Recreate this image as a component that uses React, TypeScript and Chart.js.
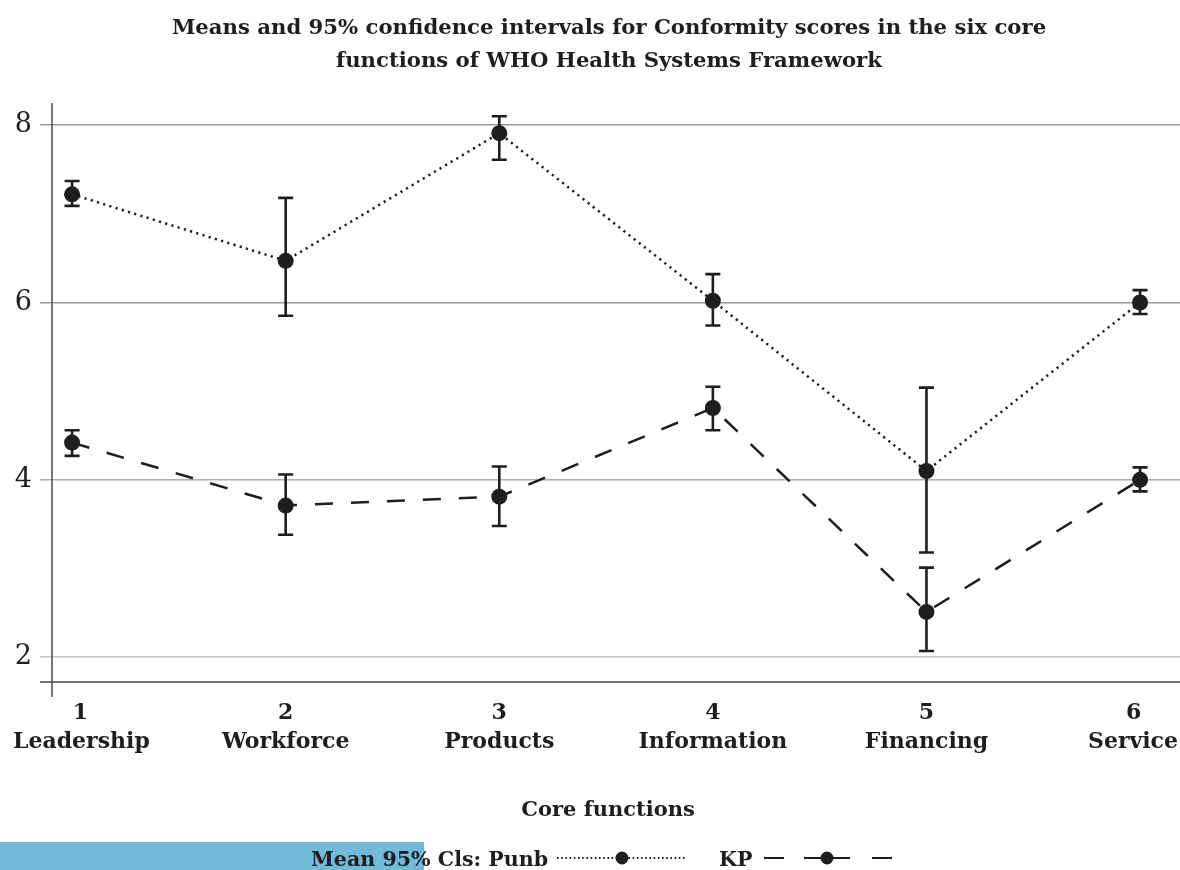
import React, { useEffect, useRef } from "react";
import { Chart, registerables } from "chart.js";

Chart.register(...registerables);

// ---------- data ----------
const categories = ["Leadership", "Workforce", "Products", "Information", "Financing", "Service"];
const categoryNumbers = [1, 2, 3, 4, 5, 6];
const punbMean = [7.22, 6.47, 7.91, 6.02, 4.1, 6.0];
const punbLow = [7.09, 5.85, 7.61, 5.74, 3.18, 5.87];
const punbHigh = [7.37, 7.18, 8.1, 6.32, 5.04, 6.14];
const kpMean = [4.42, 3.71, 3.81, 4.81, 2.51, 4.0];
const kpLow = [4.27, 3.38, 3.48, 4.56, 2.07, 3.87];
const kpHigh = [4.56, 4.06, 4.15, 5.05, 3.01, 4.14];
const yTicks = [2, 4, 6, 8];

const titleLines = [
  "Means and 95% confidence intervals for Conformity scores in the six core",
  "functions of WHO Health Systems Framework",
];
const xTitle = "Core functions";
const legendLead = "Mean 95% Cls: Punb";
const legendSecond = "KP";

const INK = "#1e1e1e";
const SERIF = '"DejaVu Serif", serif';

const errorBars = [
  { low: punbLow, high: punbHigh },
  { low: kpLow, high: kpHigh },
];

const errorBarPlugin = {
  id: "errorBars",
  beforeDatasetsDraw(chart: any) {
    const { ctx, scales } = chart;
    const xs = scales.x;
    const ys = scales.y;
    ctx.save();
    ctx.strokeStyle = INK;
    ctx.lineWidth = 2.6;
    ctx.lineCap = "butt";
    errorBars.forEach((eb) => {
      categoryNumbers.forEach((n, i) => {
        const x = xs.getPixelForValue(n);
        const yl = ys.getPixelForValue(eb.low[i]);
        const yh = ys.getPixelForValue(eb.high[i]);
        const cap = 7.5;
        ctx.beginPath();
        ctx.moveTo(x, yl);
        ctx.lineTo(x, yh);
        ctx.moveTo(x - cap, yl);
        ctx.lineTo(x + cap, yl);
        ctx.moveTo(x - cap, yh);
        ctx.lineTo(x + cap, yh);
        ctx.stroke();
      });
    });
    ctx.restore();
  },
};

const chromePlugin = {
  id: "chrome",
  beforeDatasetsDraw(chart: any) {
    const { ctx, chartArea } = chart;
    ctx.save();
    // axis lines
    ctx.strokeStyle = "#555";
    ctx.lineWidth = 1.6;
    ctx.beginPath();
    ctx.moveTo(chartArea.left, chartArea.top);
    ctx.lineTo(chartArea.left, chartArea.bottom + 15);
    ctx.stroke();
    ctx.strokeStyle = "#444";
    ctx.beginPath();
    ctx.moveTo(chartArea.left - 12, chartArea.bottom);
    ctx.lineTo(chartArea.right, chartArea.bottom);
    ctx.stroke();
    ctx.restore();
  },
  afterDraw(chart: any) {
    const { ctx, scales, chartArea, width } = chart;
    ctx.save();
    ctx.fillStyle = INK;
    // category labels (number + name), kept inside the canvas
    ctx.font = `bold 22px ${SERIF}`;
    ctx.textAlign = "center";
    ctx.textBaseline = "middle";
    categoryNumbers.forEach((n, i) => {
      const px = scales.x.getPixelForValue(n);
      const w = ctx.measureText(categories[i]).width;
      const cx = Math.min(Math.max(px, 13 + w / 2), width - 2 - w / 2);
      ctx.fillText(String(n), px + (cx - px) * 0.9, chartArea.bottom + 31);
      ctx.fillText(categories[i], cx, chartArea.bottom + 60);
    });
    // title
    ctx.font = `bold 21.2px ${SERIF}`;
    ctx.textBaseline = "alphabetic";
    ctx.fillText(titleLines[0], 609, 34);
    ctx.fillText(titleLines[1], 609, 67);
    // x axis title
    ctx.font = `bold 21px ${SERIF}`;
    ctx.fillText(xTitle, 608, 816);
    // legend
    ctx.fillStyle = "#6fbbd9";
    ctx.fillRect(0, 842, 424, 28);
    ctx.fillStyle = INK;
    ctx.textAlign = "left";
    ctx.font = `bold 20.6px ${SERIF}`;
    ctx.fillText(legendLead, 311, 866);
    ctx.fillText(legendSecond, 719, 866);
    const ly = 858;
    ctx.strokeStyle = INK;
    ctx.lineWidth = 2;
    ctx.setLineDash([1.6, 2.6]);
    ctx.beginPath();
    ctx.moveTo(557, ly);
    ctx.lineTo(687, ly);
    ctx.stroke();
    ctx.setLineDash([]);
    ctx.lineWidth = 2;
    [[764, 784], [804, 850], [872, 892]].forEach(([a, b]) => {
      ctx.beginPath();
      ctx.moveTo(a, ly);
      ctx.lineTo(b, ly);
      ctx.stroke();
    });
    ctx.beginPath();
    ctx.arc(622, ly, 6.5, 0, Math.PI * 2);
    ctx.arc(827, ly, 6.5, 0, Math.PI * 2);
    ctx.fill();
    ctx.restore();
  },
};

const gridColorFor = (v: number) => (v >= 6 ? "#9a9a9a" : v >= 4 ? "#b0b0b0" : "#c4c4c4");

export default function App() {
  const canvasRef = useRef<HTMLCanvasElement | null>(null);

  useEffect(() => {
    if (!canvasRef.current) return;
    const chart = new Chart(canvasRef.current, {
      type: "line",
      data: {
        datasets: [
          {
            label: "Punb",
            data: categoryNumbers.map((n, i) => ({ x: n, y: punbMean[i] })),
            borderColor: INK,
            borderWidth: 2.5,
            borderDash: [2.2, 4.3],
            pointRadius: 8,
            pointBackgroundColor: INK,
            pointBorderWidth: 0,
            tension: 0,
          },
          {
            label: "KP",
            data: categoryNumbers.map((n, i) => ({ x: n, y: kpMean[i] })),
            borderColor: INK,
            borderWidth: 2.5,
            borderDash: [18, 18],
            pointRadius: 8,
            pointBackgroundColor: INK,
            pointBorderWidth: 0,
            tension: 0,
          },
        ],
      },
      options: {
        animation: false,
        responsive: false,
        events: [],
        layout: { autoPadding: false, padding: { top: 103, left: 0, right: 0, bottom: 0 } },
        plugins: {
          legend: { display: false },
          title: { display: false },
          tooltip: { enabled: false },
        },
        scales: {
          x: {
            type: "linear",
            min: 0.906,
            max: 6.187,
            border: { display: false },
            grid: { display: false, drawTicks: false },
            afterBuildTicks: (axis: any) => {
              axis.ticks = categoryNumbers.map((n) => ({ value: n }));
            },
            afterFit: (scale: any) => {
              scale.height = 188;
              scale.paddingLeft = 0;
              scale.paddingRight = 0;
            },
            ticks: { display: false },
          },
          y: {
            type: "linear",
            min: 1.72,
            max: 8.25,
            border: { display: false },
            afterBuildTicks: (axis: any) => {
              axis.ticks = yTicks.map((v) => ({ value: v }));
            },
            afterFit: (scale: any) => {
              scale.width = 52;
              scale.paddingTop = 0;
              scale.paddingBottom = 0;
            },
            grid: {
              color: (c: any) => gridColorFor(c.tick ? c.tick.value : 0),
              lineWidth: 1.5,
              tickLength: 12,
              drawTicks: true,
            },
            ticks: {
              padding: 8,
              color: INK,
              font: { family: SERIF, size: 27, weight: "normal" },
            },
          },
        },
      },
      plugins: [chromePlugin, errorBarPlugin],
    } as any);
    return () => chart.destroy();
  }, []);

  return (
    <div style={{ position: "absolute", left: 0, top: 0, width: 1180, height: 870, background: "#fff" }}>
      <canvas ref={canvasRef} width={1180} height={870} style={{ display: "block" }} />
    </div>
  );
}
